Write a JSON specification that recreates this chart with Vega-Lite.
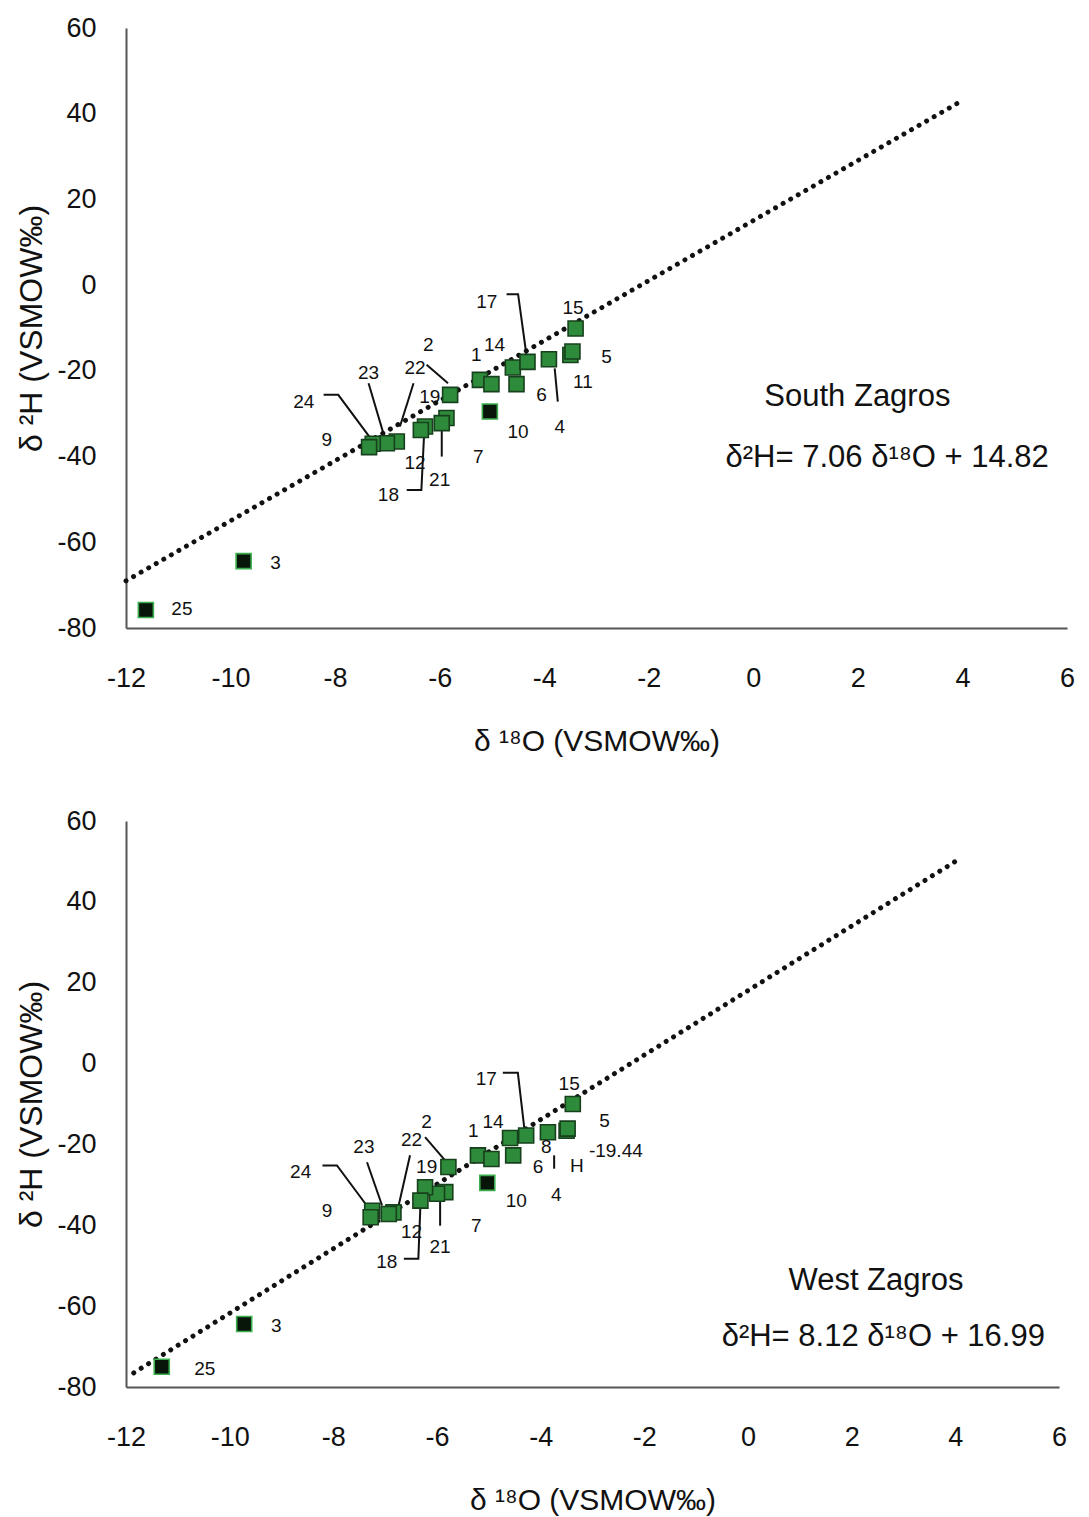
{
  "$schema": "https://vega.github.io/schema/vega-lite/v6.json",
  "background": "white",
  "padding": {"top": 14, "left": 15, "right": 10, "bottom": 5},
  "spacing": 51,
  "config": {
    "view": {"stroke": null},
    "font": "Liberation Sans, Arial",
    "axis": {
      "domainColor": "#555555", "domainWidth": 2, "ticks": false, "grid": false,
      "labelFont": "Liberation Sans, Arial", "labelFontSize": 27, "labelColor": "#111111", "labelFlush": false,
      "labelExpr": "replace(datum.label, '−', '-')",
      "titleFont": "Liberation Sans, Arial", "titleFontWeight": "normal", "titleColor": "#111111"
    },
    "axisX": {"labelPadding": 37, "titlePadding": 35, "titleFontSize": 30},
    "axisY": {"labelPadding": 30, "titlePadding": 8, "titleFontSize": 32}
  },
  "datasets": {
    "trend": [
      {"p": "S", "x": -12, "y": -69.0},
      {"p": "S", "x": 4, "y": 43.1},
      {"p": "W", "x": -11.85, "y": -76.5},
      {"p": "W", "x": 4, "y": 50.0}
    ],
    "pts": [
      {"p": "S", "id": "15", "x": -3.4, "y": -10.1, "k": "g"},
      {"p": "S", "id": "11", "x": -3.5, "y": -16.3, "k": "g"},
      {"p": "S", "id": "5", "x": -3.46, "y": -15.5, "k": "g"},
      {"p": "S", "id": "4", "x": -3.91, "y": -17.3, "k": "g"},
      {"p": "S", "id": "14", "x": -4.6, "y": -19.2, "k": "g"},
      {"p": "S", "id": "17", "x": -4.32, "y": -17.9, "k": "g"},
      {"p": "S", "id": "6", "x": -4.53, "y": -23.1, "k": "g"},
      {"p": "S", "id": "1", "x": -5.23, "y": -22.1, "k": "g"},
      {"p": "S", "id": "7", "x": -5.01, "y": -23.1, "k": "g"},
      {"p": "S", "id": "10", "x": -5.04, "y": -29.5, "k": "b"},
      {"p": "S", "id": "2", "x": -5.8, "y": -25.6, "k": "g"},
      {"p": "S", "id": "19", "x": -5.87, "y": -31.0, "k": "g"},
      {"p": "S", "id": "21", "x": -5.96, "y": -32.2, "k": "g"},
      {"p": "S", "id": "18", "x": -6.28, "y": -33.0, "k": "g"},
      {"p": "S", "id": "12", "x": -6.36, "y": -33.8, "k": "g"},
      {"p": "S", "id": "22", "x": -6.82, "y": -36.5, "k": "g"},
      {"p": "S", "id": "23", "x": -7.01, "y": -36.9, "k": "g"},
      {"p": "S", "id": "24", "x": -7.28, "y": -37.0, "k": "g"},
      {"p": "S", "id": "9", "x": -7.35, "y": -37.8, "k": "g"},
      {"p": "S", "id": "3", "x": -9.75, "y": -64.4, "k": "b"},
      {"p": "S", "id": "25", "x": -11.62, "y": -75.8, "k": "b"},
      {"p": "W", "id": "15", "x": -3.38, "y": -10.0, "k": "g"},
      {"p": "W", "id": "11", "x": -3.5, "y": -16.6, "k": "g"},
      {"p": "W", "id": "5", "x": -3.48, "y": -16.1, "k": "g"},
      {"p": "W", "id": "4", "x": -3.86, "y": -17.0, "k": "g"},
      {"p": "W", "id": "14", "x": -4.59, "y": -18.4, "k": "g"},
      {"p": "W", "id": "17", "x": -4.28, "y": -17.8, "k": "g"},
      {"p": "W", "id": "6", "x": -4.53, "y": -22.7, "k": "g"},
      {"p": "W", "id": "1", "x": -5.21, "y": -22.7, "k": "g"},
      {"p": "W", "id": "7", "x": -4.95, "y": -23.6, "k": "g"},
      {"p": "W", "id": "10", "x": -5.03, "y": -29.5, "k": "b"},
      {"p": "W", "id": "2", "x": -5.78, "y": -25.6, "k": "g"},
      {"p": "W", "id": "19", "x": -5.84, "y": -31.8, "k": "g"},
      {"p": "W", "id": "21", "x": -6.0, "y": -32.2, "k": "g"},
      {"p": "W", "id": "18", "x": -6.23, "y": -30.6, "k": "g"},
      {"p": "W", "id": "12", "x": -6.32, "y": -33.9, "k": "g"},
      {"p": "W", "id": "22", "x": -6.84, "y": -36.8, "k": "g"},
      {"p": "W", "id": "23", "x": -6.93, "y": -37.2, "k": "g"},
      {"p": "W", "id": "24", "x": -7.25, "y": -36.4, "k": "g"},
      {"p": "W", "id": "9", "x": -7.28, "y": -38.0, "k": "g"},
      {"p": "W", "id": "3", "x": -9.72, "y": -64.4, "k": "b"},
      {"p": "W", "id": "25", "x": -11.31, "y": -75.0, "k": "b"}
    ],
    "labs": [
      {"p": "S", "t": "17", "x": -5.1, "y": -3.9},
      {"p": "S", "t": "15", "x": -3.45, "y": -5.3},
      {"p": "S", "t": "5", "x": -2.81, "y": -16.7},
      {"p": "S", "t": "11", "x": -3.26, "y": -22.5},
      {"p": "S", "t": "14", "x": -4.95, "y": -14.0},
      {"p": "S", "t": "1", "x": -5.3, "y": -16.3},
      {"p": "S", "t": "6", "x": -4.05, "y": -25.6},
      {"p": "S", "t": "4", "x": -3.7, "y": -33.0},
      {"p": "S", "t": "10", "x": -4.5, "y": -34.2},
      {"p": "S", "t": "7", "x": -5.26, "y": -40.0},
      {"p": "S", "t": "2", "x": -6.22, "y": -14.0},
      {"p": "S", "t": "22", "x": -6.47, "y": -19.4},
      {"p": "S", "t": "23", "x": -7.36, "y": -20.6},
      {"p": "S", "t": "24", "x": -8.6, "y": -27.2},
      {"p": "S", "t": "19", "x": -6.19, "y": -26.0},
      {"p": "S", "t": "9", "x": -8.16, "y": -36.1},
      {"p": "S", "t": "12", "x": -6.47, "y": -41.6},
      {"p": "S", "t": "21", "x": -6.0, "y": -45.5},
      {"p": "S", "t": "18", "x": -6.98, "y": -49.0},
      {"p": "S", "t": "3", "x": -9.14, "y": -64.8},
      {"p": "S", "t": "25", "x": -10.93, "y": -75.6},
      {"p": "W", "t": "17", "x": -5.05, "y": -3.8},
      {"p": "W", "t": "15", "x": -3.45, "y": -5.0},
      {"p": "W", "t": "5", "x": -2.77, "y": -14.3},
      {"p": "W", "t": "-19.44", "x": -2.55, "y": -21.6},
      {"p": "W", "t": "H", "x": -3.3, "y": -25.4},
      {"p": "W", "t": "8", "x": -3.89, "y": -20.7},
      {"p": "W", "t": "6", "x": -4.05, "y": -25.6},
      {"p": "W", "t": "4", "x": -3.7, "y": -32.6},
      {"p": "W", "t": "14", "x": -4.92, "y": -14.5},
      {"p": "W", "t": "1", "x": -5.3, "y": -16.6},
      {"p": "W", "t": "10", "x": -4.47, "y": -33.9},
      {"p": "W", "t": "7", "x": -5.24, "y": -40.1},
      {"p": "W", "t": "2", "x": -6.2, "y": -14.5},
      {"p": "W", "t": "22", "x": -6.49, "y": -19.0},
      {"p": "W", "t": "23", "x": -7.41, "y": -20.7},
      {"p": "W", "t": "24", "x": -8.63, "y": -26.9},
      {"p": "W", "t": "19", "x": -6.2, "y": -25.6},
      {"p": "W", "t": "9", "x": -8.12, "y": -36.4},
      {"p": "W", "t": "12", "x": -6.49, "y": -41.7},
      {"p": "W", "t": "21", "x": -5.94, "y": -45.4},
      {"p": "W", "t": "18", "x": -6.97, "y": -49.1},
      {"p": "W", "t": "3", "x": -9.1, "y": -64.9},
      {"p": "W", "t": "25", "x": -10.48, "y": -75.5}
    ],
    "leads": [
      {"p": "S", "g": "17", "o": 1, "x": -4.72, "y": -2.1},
      {"p": "S", "g": "17", "o": 2, "x": -4.5, "y": -2.1},
      {"p": "S", "g": "17", "o": 3, "x": -4.34, "y": -16.3},
      {"p": "S", "g": "2", "o": 1, "x": -6.25, "y": -18.6},
      {"p": "S", "g": "2", "o": 2, "x": -5.84, "y": -22.9},
      {"p": "S", "g": "4", "o": 1, "x": -3.8, "y": -19.4},
      {"p": "S", "g": "4", "o": 2, "x": -3.74, "y": -27.2},
      {"p": "S", "g": "24", "o": 1, "x": -8.22, "y": -25.6},
      {"p": "S", "g": "24", "o": 2, "x": -7.94, "y": -25.6},
      {"p": "S", "g": "24", "o": 3, "x": -7.3, "y": -36.1},
      {"p": "S", "g": "23", "o": 1, "x": -7.36, "y": -22.9},
      {"p": "S", "g": "23", "o": 2, "x": -7.04, "y": -36.1},
      {"p": "S", "g": "22", "o": 1, "x": -6.5, "y": -22.9},
      {"p": "S", "g": "22", "o": 2, "x": -6.76, "y": -33.0},
      {"p": "S", "g": "21", "o": 1, "x": -5.96, "y": -40.0},
      {"p": "S", "g": "21", "o": 2, "x": -5.96, "y": -32.2},
      {"p": "S", "g": "18", "o": 1, "x": -6.63, "y": -47.8},
      {"p": "S", "g": "18", "o": 2, "x": -6.35, "y": -47.8},
      {"p": "S", "g": "18", "o": 3, "x": -6.3, "y": -35.4},
      {"p": "W", "g": "17", "o": 1, "x": -4.73, "y": -2.3},
      {"p": "W", "g": "17", "o": 2, "x": -4.44, "y": -2.3},
      {"p": "W", "g": "17", "o": 3, "x": -4.31, "y": -16.6},
      {"p": "W", "g": "2", "o": 1, "x": -6.23, "y": -18.2},
      {"p": "W", "g": "2", "o": 2, "x": -5.84, "y": -24.0},
      {"p": "W", "g": "4", "o": 1, "x": -3.74, "y": -22.7},
      {"p": "W", "g": "4", "o": 2, "x": -3.74, "y": -26.0},
      {"p": "W", "g": "24", "o": 1, "x": -8.21, "y": -25.2},
      {"p": "W", "g": "24", "o": 2, "x": -7.93, "y": -25.2},
      {"p": "W", "g": "24", "o": 3, "x": -7.28, "y": -36.4},
      {"p": "W", "g": "23", "o": 1, "x": -7.35, "y": -24.4},
      {"p": "W", "g": "23", "o": 2, "x": -7.06, "y": -35.1},
      {"p": "W", "g": "22", "o": 1, "x": -6.52, "y": -22.7},
      {"p": "W", "g": "22", "o": 2, "x": -6.74, "y": -35.1},
      {"p": "W", "g": "21", "o": 1, "x": -5.94, "y": -40.1},
      {"p": "W", "g": "21", "o": 2, "x": -5.94, "y": -33.5},
      {"p": "W", "g": "18", "o": 1, "x": -6.64, "y": -48.3},
      {"p": "W", "g": "18", "o": 2, "x": -6.36, "y": -48.3},
      {"p": "W", "g": "18", "o": 3, "x": -6.32, "y": -35.1}
    ],
    "notes": [
      {"p": "S", "t": "South Zagros", "x": 1.99, "y": -26.1},
      {"p": "S", "t": "δ²H= 7.06 δ¹⁸O + 14.82", "x": 2.56, "y": -40.3},
      {"p": "W", "t": "West Zagros", "x": 2.47, "y": -53.8},
      {"p": "W", "t": "δ²H= 8.12 δ¹⁸O + 16.99", "x": 2.61, "y": -67.6}
    ]
  },
  "vconcat": [
    {
      "width": 941, "height": 600,
      "layer": [
        {
          "data": {"name": "trend"}, "transform": [{"filter": "datum.p == 'S'"}],
          "mark": {"type": "line", "stroke": "#111111", "strokeWidth": 5, "strokeDash": [0.01, 8.7], "strokeCap": "round"},
          "encoding": {
            "x": {"field": "x", "type": "quantitative", "scale": {"domain": [-12, 6], "nice": false, "zero": false}, "axis": {"values": [-12, -10, -8, -6, -4, -2, 0, 2, 4, 6], "title": "δ ¹⁸O (VSMOW‰)"}},
            "y": {"field": "y", "type": "quantitative", "scale": {"domain": [-80, 60], "nice": false, "zero": false}, "axis": {"values": [-80, -60, -40, -20, 0, 20, 40, 60], "title": "δ ²H (VSMOW‰)"}}
          }
        },
        {
          "data": {"name": "leads"}, "transform": [{"filter": "datum.p == 'S'"}],
          "mark": {"type": "line", "stroke": "#111111", "strokeWidth": 2},
          "encoding": {"x": {"field": "x", "type": "quantitative"}, "y": {"field": "y", "type": "quantitative"}, "detail": {"field": "g"}, "order": {"field": "o"}}
        },
        {
          "data": {"name": "pts"}, "transform": [{"filter": "datum.p == 'S'"}],
          "mark": {"type": "point", "shape": "square", "filled": true, "size": 225, "strokeWidth": 1.6, "opacity": 1},
          "encoding": {
            "x": {"field": "x", "type": "quantitative"}, "y": {"field": "y", "type": "quantitative"},
            "fill": {"field": "k", "type": "nominal", "scale": {"domain": ["g", "b"], "range": ["#2e8b3b", "#08160a"]}, "legend": null},
            "stroke": {"field": "k", "type": "nominal", "scale": {"domain": ["g", "b"], "range": ["#17401c", "#3aae4c"]}, "legend": null}
          }
        },
        {
          "data": {"name": "labs"}, "transform": [{"filter": "datum.p == 'S'"}],
          "mark": {"type": "text", "fontSize": 19, "color": "#111111", "align": "center", "baseline": "middle"},
          "encoding": {"x": {"field": "x", "type": "quantitative"}, "y": {"field": "y", "type": "quantitative"}, "text": {"field": "t"}}
        },
        {
          "data": {"name": "notes"}, "transform": [{"filter": "datum.p == 'S'"}],
          "mark": {"type": "text", "fontSize": 31, "color": "#111111", "align": "center", "baseline": "middle"},
          "encoding": {"x": {"field": "x", "type": "quantitative"}, "y": {"field": "y", "type": "quantitative"}, "text": {"field": "t"}}
        }
      ]
    },
    {
      "width": 933, "height": 566,
      "layer": [
        {
          "data": {"name": "trend"}, "transform": [{"filter": "datum.p == 'W'"}],
          "mark": {"type": "line", "stroke": "#111111", "strokeWidth": 5, "strokeDash": [0.01, 8.7], "strokeCap": "round"},
          "encoding": {
            "x": {"field": "x", "type": "quantitative", "scale": {"domain": [-12, 6], "nice": false, "zero": false}, "axis": {"values": [-12, -10, -8, -6, -4, -2, 0, 2, 4, 6], "title": "δ ¹⁸O (VSMOW‰)"}},
            "y": {"field": "y", "type": "quantitative", "scale": {"domain": [-80, 60], "nice": false, "zero": false}, "axis": {"values": [-80, -60, -40, -20, 0, 20, 40, 60], "title": "δ ²H (VSMOW‰)"}}
          }
        },
        {
          "data": {"name": "leads"}, "transform": [{"filter": "datum.p == 'W'"}],
          "mark": {"type": "line", "stroke": "#111111", "strokeWidth": 2},
          "encoding": {"x": {"field": "x", "type": "quantitative"}, "y": {"field": "y", "type": "quantitative"}, "detail": {"field": "g"}, "order": {"field": "o"}}
        },
        {
          "data": {"name": "pts"}, "transform": [{"filter": "datum.p == 'W'"}],
          "mark": {"type": "point", "shape": "square", "filled": true, "size": 225, "strokeWidth": 1.6, "opacity": 1},
          "encoding": {
            "x": {"field": "x", "type": "quantitative"}, "y": {"field": "y", "type": "quantitative"},
            "fill": {"field": "k", "type": "nominal", "scale": {"domain": ["g", "b"], "range": ["#2e8b3b", "#08160a"]}, "legend": null},
            "stroke": {"field": "k", "type": "nominal", "scale": {"domain": ["g", "b"], "range": ["#17401c", "#3aae4c"]}, "legend": null}
          }
        },
        {
          "data": {"name": "labs"}, "transform": [{"filter": "datum.p == 'W'"}],
          "mark": {"type": "text", "fontSize": 19, "color": "#111111", "align": "center", "baseline": "middle"},
          "encoding": {"x": {"field": "x", "type": "quantitative"}, "y": {"field": "y", "type": "quantitative"}, "text": {"field": "t"}}
        },
        {
          "data": {"name": "notes"}, "transform": [{"filter": "datum.p == 'W'"}],
          "mark": {"type": "text", "fontSize": 31, "color": "#111111", "align": "center", "baseline": "middle"},
          "encoding": {"x": {"field": "x", "type": "quantitative"}, "y": {"field": "y", "type": "quantitative"}, "text": {"field": "t"}}
        }
      ]
    }
  ]
}
